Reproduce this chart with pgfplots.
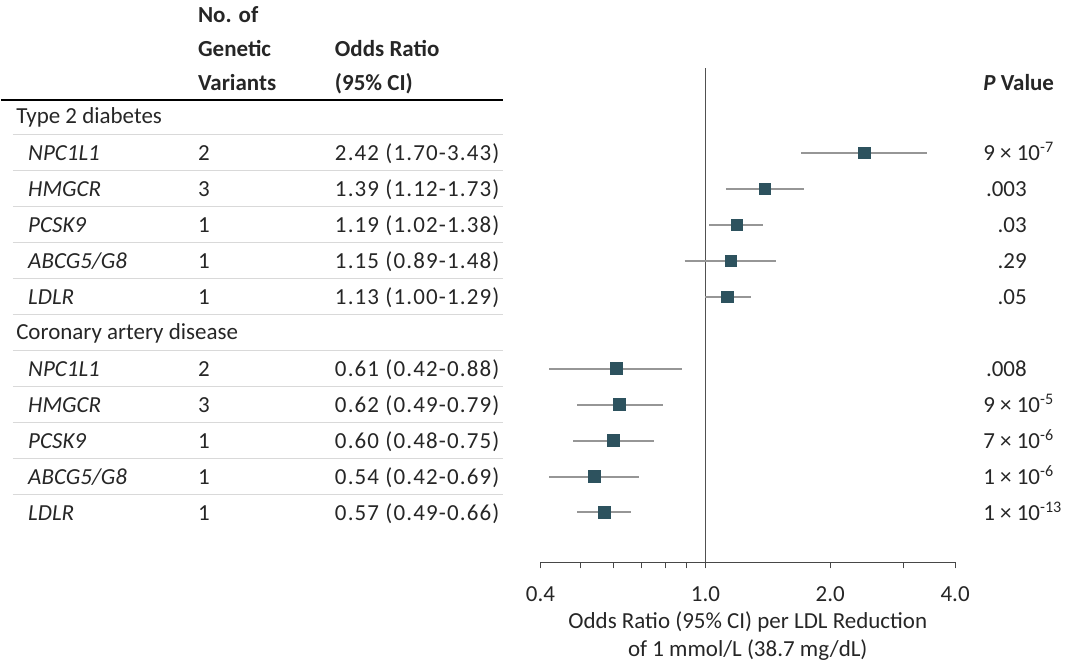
\documentclass[border=0pt]{standalone}
\usepackage{pgfplots}
\pgfplotsset{compat=1.18}
\usepackage{fontspec}
\setmainfont{Carlito}
\newfontfamily\numfont[LetterSpace=5]{Carlito}
\definecolor{mk}{RGB}{45,82,94}
\definecolor{ci}{RGB}{150,150,150}
\definecolor{txt}{RGB}{38,38,38}
\newcommand{\fs}{\fontsize{17.25}{21}\selectfont}
\begin{document}
\begin{tikzpicture}[font=\fs,text=txt]
\begin{scope}[x=0.75pt,y=-0.75pt]
\useasboundingbox (0,0) rectangle (1075,663);
\end{scope}
\begin{axis}[
  at={(405pt,-422.25pt)}, anchor=south west,
  scale only axis, width=311.25pt, height=371.25pt,
  xmode=log, xmin=0.4, xmax=4,
  ymin=-13.39, ymax=0.36,
  axis x line=bottom, axis y line=none,
  x axis line style={-, line width=0.9pt, color=txt!85},
  every outer x axis line/.append style={-},
  xtick={0.4,1,2,4}, xticklabels={0.4,1.0,2.0,4.0},
  minor xtick={0.5,0.6,0.7,0.8,0.9,3},
  tick align=outside,
  major tick length=4.5pt, minor tick length=4.5pt,
  tick style={line width=0.75pt, color=txt!85},
  xticklabel style={font=\fs, text=txt, yshift=-10pt},
  xlabel={Odds Ratio (95\% CI) per LDL Reduction\\of 1 mmol/L (38.7 mg/dL)},
  xlabel style={at={(axis description cs:0.5,0)}, anchor=north, yshift=-33.5pt, align=center, font=\fs, text=txt},
  clip=false,
]
\addplot[txt!80, line width=1.1pt] coordinates {(1,-13.39) (1,0.36)};
% confidence intervals
\addplot[ci, line width=1.5pt] coordinates {(1.70,-2) (3.43,-2)};
\addplot[ci, line width=1.5pt] coordinates {(1.12,-3) (1.73,-3)};
\addplot[ci, line width=1.5pt] coordinates {(1.02,-4) (1.38,-4)};
\addplot[ci, line width=1.5pt] coordinates {(0.89,-5) (1.48,-5)};
\addplot[ci, line width=1.5pt] coordinates {(1.00,-6) (1.29,-6)};
\addplot[ci, line width=1.5pt] coordinates {(0.42,-8) (0.88,-8)};
\addplot[ci, line width=1.5pt] coordinates {(0.49,-9) (0.79,-9)};
\addplot[ci, line width=1.5pt] coordinates {(0.48,-10) (0.75,-10)};
\addplot[ci, line width=1.5pt] coordinates {(0.42,-11) (0.69,-11)};
\addplot[ci, line width=1.5pt] coordinates {(0.49,-12) (0.66,-12)};
% point estimates
\addplot[only marks, mark=square*, mark size=4.4pt, mk, mark options={fill=mk, draw=mk}] coordinates {
(2.42,-2) (1.39,-3) (1.19,-4) (1.15,-5) (1.13,-6)
(0.61,-8) (0.62,-9) (0.60,-10) (0.54,-11) (0.57,-12)};
\end{axis}
\begin{scope}[x=0.75pt,y=-0.75pt,every node/.style={inner sep=0pt}]
% header
\draw[line width=1.5pt, black] (0,100) -- (502,100);
\node[anchor=base west, font=\fs\bfseries] at (197,23) {No. of};
\node[anchor=base west, font=\fs\bfseries] at (197,57) {Genetic};
\node[anchor=base west, font=\fs\bfseries] at (197,91) {Variants};
\node[anchor=base west, font=\fs\bfseries] at (334,57) {Odds Ratio};
\node[anchor=base west, font=\fs\bfseries] at (334,91) {(95\% CI)};
\node[anchor=base west, font=\fs\bfseries] at (983,91) {\textit{P} Value};
% separators
\foreach \k in {0,...,10} {
  \draw[gray!30, line width=0.8pt] (12,135+36*\k) -- (502,135+36*\k);
}
% section labels
\node[anchor=base west] at (15,124) {Type 2 diabetes};
\node[anchor=base west] at (15,340) {Coronary artery disease};
% rows
\foreach \y/\g/\n/\o in {
  161/NPC1L1/2/{2.42 (1.70-3.43)},
  197/HMGCR/3/{1.39 (1.12-1.73)},
  233/PCSK9/1/{1.19 (1.02-1.38)},
  269/{ABCG5/G8}/1/{1.15 (0.89-1.48)},
  305/LDLR/1/{1.13 (1.00-1.29)},
  377/NPC1L1/2/{0.61 (0.42-0.88)},
  413/HMGCR/3/{0.62 (0.49-0.79)},
  449/PCSK9/1/{0.60 (0.48-0.75)},
  485/{ABCG5/G8}/1/{0.54 (0.42-0.69)},
  521/LDLR/1/{0.57 (0.49-0.66)}} {
  \node[anchor=base west, font=\fs\itshape] at (27,\y) {\g};
  \node[anchor=base west] at (197,\y) {\n};
  \node[anchor=base west, font=\fs\numfont] at (334,\y) {\o};
}
% P values
\node[anchor=base west] at (983,161) {9 × 10\textsuperscript{-7}};
\node[anchor=base east] at (1027,197) {.003};
\node[anchor=base east] at (1027,233) {.03};
\node[anchor=base east] at (1027,269) {.29};
\node[anchor=base east] at (1027,305) {.05};
\node[anchor=base east] at (1027,377) {.008};
\node[anchor=base west] at (983,413) {9 × 10\textsuperscript{-5}};
\node[anchor=base west] at (983,449) {7 × 10\textsuperscript{-6}};
\node[anchor=base west] at (983,485) {1 × 10\textsuperscript{-6}};
\node[anchor=base west] at (983,521) {1 × 10\textsuperscript{-13}};
\end{scope}
\end{tikzpicture}
\end{document}
